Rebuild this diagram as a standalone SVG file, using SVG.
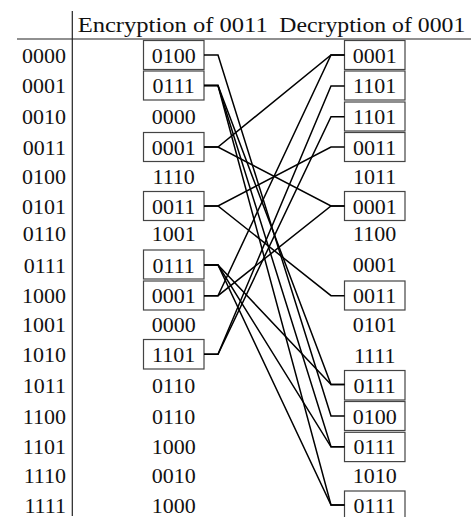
<svg xmlns="http://www.w3.org/2000/svg" width="471" height="517" viewBox="0 0 471 517">
<style>
text{font-family:"Liberation Serif","Times New Roman",serif;font-size:22px;fill:#111}
.k{text-anchor:end}
.v{text-anchor:middle}
.b{fill:#fff;stroke:#444;stroke-width:1.2}
.rule{stroke:#222;stroke-width:1.2;fill:none}
#connectors path{fill:none;stroke:#000;stroke-width:1.5;stroke-linejoin:miter}
</style>
<rect width="471" height="517" fill="#fff"/>
<g id="table">
<line class="rule" x1="72.3" y1="11" x2="72.3" y2="516"/>
<line class="rule" x1="17" y1="39" x2="471" y2="39"/>
<text x="77.7" y="31.7" textLength="190" lengthAdjust="spacingAndGlyphs">Encryption of 0011</text>
<text x="279.3" y="31.7" textLength="186" lengthAdjust="spacingAndGlyphs">Decryption of 0001</text>
</g>
<g id="keys">
<text class="k" x="66" y="62.5">0000</text>
<text class="k" x="66" y="93">0001</text>
<text class="k" x="66" y="124">0010</text>
<text class="k" x="66" y="154.5">0011</text>
<text class="k" x="66" y="183.5">0100</text>
<text class="k" x="66" y="213.5">0101</text>
<text class="k" x="66" y="241">0110</text>
<text class="k" x="66" y="272.5">0111</text>
<text class="k" x="66" y="303.2">1000</text>
<text class="k" x="66" y="331.5">1001</text>
<text class="k" x="66" y="362">1010</text>
<text class="k" x="66" y="392.5">1011</text>
<text class="k" x="66" y="423.5">1100</text>
<text class="k" x="66" y="454.3">1101</text>
<text class="k" x="66" y="482.5">1110</text>
<text class="k" x="66" y="512.5">1111</text>
</g>
<g id="enc">
<g id="enc0"><rect class="b" x="143.5" y="40.5" width="60.5" height="29"/><text class="v" x="173.7" y="62.5">0100</text></g>
<g id="enc1"><rect class="b" x="143.5" y="71" width="60.5" height="29"/><text class="v" x="173.7" y="93">0111</text></g>
<g id="enc2"><text class="v" x="173.7" y="124">0000</text></g>
<g id="enc3"><rect class="b" x="143.5" y="132.5" width="60.5" height="29"/><text class="v" x="173.7" y="154.5">0001</text></g>
<g id="enc4"><text class="v" x="173.7" y="183.5">1110</text></g>
<g id="enc5"><rect class="b" x="143.5" y="191.5" width="60.5" height="29"/><text class="v" x="173.7" y="213.5">0011</text></g>
<g id="enc6"><text class="v" x="173.7" y="241">1001</text></g>
<g id="enc7"><rect class="b" x="143.5" y="250" width="60.5" height="29"/><text class="v" x="173.7" y="272.5">0111</text></g>
<g id="enc8"><rect class="b" x="143.5" y="281" width="60.5" height="29"/><text class="v" x="173.7" y="303.2">0001</text></g>
<g id="enc9"><text class="v" x="173.7" y="331.5">0000</text></g>
<g id="enc10"><rect class="b" x="143.5" y="339.5" width="60.5" height="29.5"/><text class="v" x="173.7" y="362">1101</text></g>
<g id="enc11"><text class="v" x="173.7" y="392.5">0110</text></g>
<g id="enc12"><text class="v" x="173.7" y="423.5">0110</text></g>
<g id="enc13"><text class="v" x="173.7" y="454.3">1000</text></g>
<g id="enc14"><text class="v" x="173.7" y="482.5">0010</text></g>
<g id="enc15"><text class="v" x="173.7" y="512.5">1000</text></g>
</g>
<g id="dec">
<g id="dec0"><rect class="b" x="344.5" y="40.5" width="60.5" height="29"/><text class="v" x="374.7" y="62.5">0001</text></g>
<g id="dec1"><rect class="b" x="344.5" y="71" width="60.5" height="29"/><text class="v" x="374.7" y="93">1101</text></g>
<g id="dec2"><rect class="b" x="344.5" y="102" width="60.5" height="29"/><text class="v" x="374.7" y="124">1101</text></g>
<g id="dec3"><rect class="b" x="344.5" y="132.5" width="60.5" height="29"/><text class="v" x="374.7" y="154.5">0011</text></g>
<g id="dec4"><text class="v" x="374.7" y="183.5">1011</text></g>
<g id="dec5"><rect class="b" x="344.5" y="191.5" width="60.5" height="29"/><text class="v" x="374.7" y="213.5">0001</text></g>
<g id="dec6"><text class="v" x="374.7" y="241">1100</text></g>
<g id="dec7"><text class="v" x="374.7" y="272">0001</text></g>
<g id="dec8"><rect class="b" x="344.5" y="281" width="60.5" height="29"/><text class="v" x="374.7" y="303.2">0011</text></g>
<g id="dec9"><text class="v" x="374.7" y="331.5">0101</text></g>
<g id="dec10"><text class="v" x="374.7" y="362.5">1111</text></g>
<g id="dec11"><rect class="b" x="344.5" y="370.5" width="60.5" height="29.5"/><text class="v" x="374.7" y="392.5">0111</text></g>
<g id="dec12"><rect class="b" x="344.5" y="401.5" width="60.5" height="29"/><text class="v" x="374.7" y="423.5">0100</text></g>
<g id="dec13"><rect class="b" x="344.5" y="432.3" width="60.5" height="29.3"/><text class="v" x="374.7" y="454.3">0111</text></g>
<g id="dec14"><text class="v" x="374.7" y="482.5">1010</text></g>
<g id="dec15"><rect class="b" x="344.5" y="491" width="60.5" height="29"/><text class="v" x="374.7" y="512.5">0111</text></g>
</g>
<g id="connectors">
<path d="M204 55H218L331 416H344.5"/>
<path d="M204 85.5H218L331 384.5H344.5"/>
<path d="M204 85.5H218L331 446.8H344.5"/>
<path d="M204 85.5H218L331 505H344.5"/>
<path d="M204 147H218L331 55H344.5"/>
<path d="M204 147H218L331 206H344.5"/>
<path d="M204 206H218L331 147H344.5"/>
<path d="M204 206H218L331 295.7H344.5"/>
<path d="M204 265H218L331 384.5H344.5"/>
<path d="M204 265H218L331 446.8H344.5"/>
<path d="M204 265H218L331 505H344.5"/>
<path d="M204 295.7H218L331 55H344.5"/>
<path d="M204 295.7H218L331 206H344.5"/>
<path d="M204 354.3H218L331 86H344.5"/>
<path d="M204 354.3H218L331 116.7H344.5"/>
</g>
</svg>
